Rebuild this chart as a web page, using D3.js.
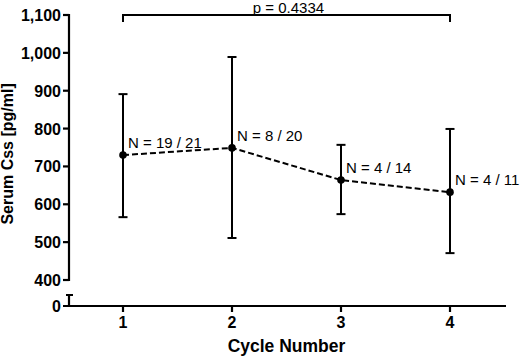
<html>
<head>
<script src="https://d3js.org/d3.v7.min.js"></script>
<style>
    body { margin: 0; background: #fff; }
    text { font-family: "Liberation Sans", Arial, sans-serif; fill: #000; }
    .tick-lbl { font-weight: bold; font-size: 16px; }
    .n-lbl { font-size: 15px; }
</style>
</head>
<body>
<svg id="chart" width="520" height="356"></svg>
<script>
    // data
    const cycles = [1, 2, 3, 4];
    const means = [730, 749, 664, 632];
    const upper = [891, 989, 757, 799];
    const lower = [566, 511, 574, 471];
    const nLabels = ["N = 19 / 21", "N = 8 / 20", "N = 4 / 14", "N = 4 / 11"];
    const yTicks = [400, 500, 600, 700, 800, 900, 1000, 1100];
    const pLabel = "p = 0.4334";

    const svg = d3.select("#chart");
    const x = d3.scaleLinear().domain([0.5, 4.5]).range([68.5, 504.5]);
    const y = d3.scaleLinear().domain([400, 1100]).range([280, 15]);
    const y0 = 306; // zero line below the break

    const fmt = d3.format(",");

    // upper y axis segment
    svg.append("line").attr("x1", 69).attr("x2", 69)
        .attr("y1", y(400) + 1).attr("y2", y(1100) - 1)
        .attr("stroke", "#000").attr("stroke-width", 2.2);
    yTicks.forEach(t => {
        svg.append("line").attr("x1", 63).attr("x2", 69)
            .attr("y1", y(t)).attr("y2", y(t))
            .attr("stroke", "#000").attr("stroke-width", 2.2);
        svg.append("text").attr("class", "tick-lbl")
            .attr("x", 61).attr("y", y(t) + 6)
            .attr("text-anchor", "end").text(fmt(t));
    });

    // lower segment below the break
    svg.append("line").attr("x1", 69).attr("x2", 69)
        .attr("y1", y0).attr("y2", 295)
        .attr("stroke", "#000").attr("stroke-width", 2.2);
    svg.append("line").attr("x1", 66).attr("x2", 73)
        .attr("y1", 295).attr("y2", 295)
        .attr("stroke", "#000").attr("stroke-width", 2);
    svg.append("text").attr("class", "tick-lbl")
        .attr("x", 61).attr("y", y0 + 6)
        .attr("text-anchor", "end").text("0");

    // x axis
    svg.append("line").attr("x1", 63).attr("x2", 506)
        .attr("y1", y0).attr("y2", y0)
        .attr("stroke", "#000").attr("stroke-width", 2.2);
    cycles.forEach(c => {
        svg.append("line").attr("x1", x(c)).attr("x2", x(c))
            .attr("y1", y0).attr("y2", y0 + 6)
            .attr("stroke", "#000").attr("stroke-width", 2.2);
        svg.append("text").attr("class", "tick-lbl")
            .attr("x", x(c)).attr("y", y0 + 22)
            .attr("text-anchor", "middle").text(c);
    });

    svg.append("text").attr("x", x(2.5)).attr("y", 352)
        .attr("text-anchor", "middle")
        .style("font-weight", "bold").style("font-size", "17.5px")
        .text("Cycle Number");

    svg.append("text")
        .attr("transform", "translate(13," + y(733) + ") rotate(-90)")
        .attr("text-anchor", "middle")
        .style("font-weight", "bold").style("font-size", "16px")
        .text("Serum Css [pg/ml]");

    // error bars
    cycles.forEach((c, i) => {
        svg.append("line").attr("x1", x(c)).attr("x2", x(c))
            .attr("y1", y(upper[i])).attr("y2", y(lower[i]))
            .attr("stroke", "#000").attr("stroke-width", 2);
        [upper[i], lower[i]].forEach(v => {
            svg.append("line").attr("x1", x(c) - 4.5).attr("x2", x(c) + 4.5)
                .attr("y1", y(v)).attr("y2", y(v))
                .attr("stroke", "#000").attr("stroke-width", 2);
        });
    });

    // dashed mean line
    const line = d3.line().x((d, i) => x(cycles[i])).y(d => y(d));
    svg.append("path").datum(means)
        .attr("d", line).attr("fill", "none")
        .attr("stroke", "#000").attr("stroke-width", 2)
        .attr("stroke-dasharray", "6,3");

    svg.selectAll("circle.pt").data(means).join("circle")
        .attr("class", "pt")
        .attr("cx", (d, i) => x(cycles[i])).attr("cy", d => y(d))
        .attr("r", 3.8).attr("fill", "#000");

    svg.selectAll("text.n-lbl").data(nLabels).join("text")
        .attr("class", "n-lbl")
        .attr("x", (d, i) => x(cycles[i]) + 5)
        .attr("y", (d, i) => y(means[i]) - 7)
        .text(d => d);

    // significance bracket
    const by = 15;
    svg.append("path")
        .attr("d", `M${x(1)},${by + 7}V${by}H${x(4)}V${by + 7}`)
        .attr("fill", "none").attr("stroke", "#000").attr("stroke-width", 2);
    svg.append("text").attr("x", (x(1) + x(4)) / 2 + 2).attr("y", by - 2.5)
        .attr("text-anchor", "middle").style("font-size", "15px")
        .text(pLabel);
</script>
</body>
</html>
